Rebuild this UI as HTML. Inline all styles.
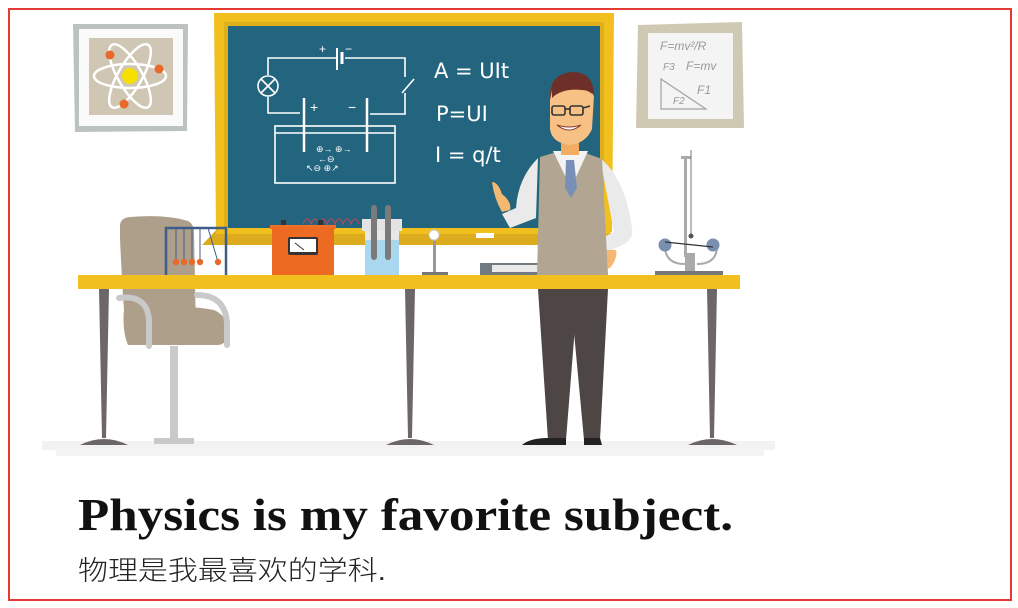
<!DOCTYPE html>
<html><head><meta charset="utf-8"><style>
html,body{margin:0;padding:0;background:#fff;}
svg{display:block;}
</style></head><body>
<svg width="1018" height="608" viewBox="0 0 1018 608" xmlns="http://www.w3.org/2000/svg">
<rect x="0" y="0" width="1018" height="608" fill="#fff"/>
<rect x="9" y="9" width="1002" height="591" fill="none" stroke="#e53935" stroke-width="2"/>

<!-- floor -->
<g>
<rect x="42" y="441" width="733" height="9" fill="#f1f2f1"/>
<rect x="56" y="449" width="708" height="7" fill="#f3f4f3"/>
</g>

<!-- atom picture -->
<g>
<polygon points="73,24 188,24 187,131 75,132" fill="#bcc2bd"/>
<rect x="79" y="29" width="104" height="97" fill="#fafafa"/>
<rect x="89" y="38" width="84" height="77" fill="#cfc7b3"/>
<g fill="none" stroke="#fff" stroke-width="2.5">
<ellipse cx="130" cy="76" rx="36" ry="12"/>
<ellipse cx="130" cy="76" rx="36" ry="12" transform="rotate(60 130 76)"/>
<ellipse cx="130" cy="76" rx="36" ry="12" transform="rotate(-60 130 76)"/>
</g>
<circle cx="130" cy="76" r="8" fill="#f5e000"/>
<circle cx="110" cy="55" r="4.5" fill="#e8692a"/>
<circle cx="159" cy="69" r="4.5" fill="#e8692a"/>
<circle cx="124" cy="104" r="4.5" fill="#e8692a"/>
</g>

<!-- physics formula picture -->
<g>
<polygon points="638,25 742,22 744,128 636,128" fill="#cfc9b4"/>
<rect x="648" y="33" width="85" height="86" fill="#f4f4f4"/>
<g font-family="Liberation Sans, sans-serif" font-style="italic" fill="#999" font-size="12">
<text x="660" y="50">F=mv²/R</text>
<text x="686" y="70">F=mv</text>
<text x="663" y="70" font-size="10">F3</text>
<text x="697" y="94">F1</text>
<text x="673" y="104" font-size="10">F2</text>
</g>
<polygon points="661,79 661,109 706,109" fill="none" stroke="#a0a0a0" stroke-width="1.2"/>
</g>

<!-- chalkboard -->
<g>
<polygon points="214,13 614,13 612,232 216,232" fill="#f2c01e"/>
<rect x="224" y="22" width="380" height="210" fill="#ddb01c"/>
<rect x="228" y="26" width="372" height="202" fill="#23657e"/>
<polygon points="218,228 610,228 612,245 202,245" fill="#dcab1e"/>
<polygon points="218,228 610,228 610,234 216,234" fill="#f2c01e"/>
<rect x="476" y="233" width="18" height="5" fill="#fff"/>
<g fill="none" stroke="#fff" stroke-width="1.6">
<polyline points="337,58 268,58 268,75"/>
<circle cx="268" cy="86" r="10"/>
<path d="M261,79 L275,93 M275,79 L261,93"/>
<polyline points="268,97 268,113 300,113"/>
<polyline points="345,58 405,58 405,77"/>
<line x1="402" y1="93" x2="414" y2="79"/>
<polyline points="405,93 405,114 370,114"/>
<line x1="304" y1="98" x2="304" y2="152" stroke-width="2.5"/>
<line x1="367" y1="98" x2="367" y2="152" stroke-width="2.5"/>
<line x1="337" y1="48" x2="337" y2="70" stroke-width="2"/>
<line x1="342" y1="52" x2="342" y2="64" stroke-width="3"/>
<rect x="275" y="126" width="120" height="57"/>
<line x1="275" y1="133" x2="395" y2="133"/>
</g>
<g font-family="Liberation Sans, sans-serif" fill="#fff">
<text x="319" y="53" font-size="12">+</text>
<text x="345" y="53" font-size="12">−</text>
<text x="310" y="112" font-size="14">+</text>
<text x="348" y="112" font-size="14">−</text>
<text x="316" y="152" font-size="9">⊕→ ⊕→</text>
<text x="318" y="162" font-size="9">←⊖</text>
<text x="306" y="171" font-size="9">↖⊖   ⊕↗</text>
</g>
<g font-family="DejaVu Sans, sans-serif" fill="#fff" font-size="21">
<text x="434" y="78">A = UIt</text>
<text x="436" y="121">P=UI</text>
<text x="435" y="162">I = q/t</text>
</g>
</g>

<!-- coil wires -->
<path d="M303,224 q4,-10 8,0 q4,-10 8,0 q4,-10 8,0 q4,-10 8,0 q4,-10 8,0 q4,-10 8,0 q4,-10 8,0" fill="none" stroke="#b0495a" stroke-width="1.2"/>

<!-- chair -->
<g>
<path d="M120,226 q0,-8 10,-9 q35,-3 58,4 q6,3 6,12 l2,100 l-70,5 q-4,-50 -6,-100 z" fill="#ad9f89"/>
<path d="M124,310 q45,-8 90,0 q14,6 14,22 q0,12 -10,13 l-90,0 q-6,-14 -4,-35 z" fill="#ad9f89"/>
<path d="M119,298 q28,-4 30,22 l0,26" fill="none" stroke="#c9c9c9" stroke-width="6" stroke-linecap="round"/>
<path d="M197,295 q28,0 30,28 l0,22" fill="none" stroke="#c9c9c9" stroke-width="6" stroke-linecap="round"/>
<rect x="170" y="346" width="8" height="93" fill="#c9c9c9"/>
<rect x="154" y="438" width="40" height="6" fill="#c9c9c9"/>
</g>

<!-- newton cradle -->
<g stroke="#3e5d8c" fill="none">
<polyline points="166,276 166,228 226,228 226,276" stroke-width="2.5"/>
<g stroke-width="1"><line x1="176" y1="228" x2="176" y2="262"/><line x1="184" y1="228" x2="184" y2="262"/><line x1="192" y1="228" x2="192" y2="262"/><line x1="200" y1="228" x2="200" y2="262"/><line x1="208" y1="228" x2="218" y2="262"/></g>
<g fill="#e8692a" stroke="none"><circle cx="176" cy="262" r="3.2"/><circle cx="184" cy="262" r="3.2"/><circle cx="192" cy="262" r="3.2"/><circle cx="200" cy="262" r="3.2"/><circle cx="218" cy="262" r="3.2"/></g>
</g>

<!-- voltmeter box -->
<g>
<rect x="281" y="220" width="5" height="6" fill="#333"/><rect x="318" y="220" width="5" height="6" fill="#333"/>
<rect x="270" y="225" width="66" height="4" fill="#f0702a"/>
<rect x="272" y="227" width="62" height="49" fill="#ec6a22"/>
<rect x="288" y="237" width="30" height="18" rx="2" fill="#333"/>
<rect x="290" y="239" width="26" height="13" fill="#fff"/>
<line x1="295" y1="243" x2="304" y2="250" stroke="#333" stroke-width="1"/>
</g>

<!-- beaker -->
<g>
<rect x="362" y="219" width="40" height="12" fill="#e3e3e3"/>
<rect x="365" y="231" width="34" height="45" fill="#e8e8e8"/>
<rect x="365" y="240" width="34" height="36" fill="#a9d7ef"/>
<rect x="371" y="205" width="6" height="55" rx="3" fill="#7a7a7a"/>
<rect x="385" y="205" width="6" height="55" rx="3" fill="#7a7a7a"/>
</g>

<!-- lamp -->
<g>
<rect x="433" y="240" width="3" height="32" fill="#999"/>
<circle cx="434" cy="235" r="5" fill="#fff" stroke="#ccc"/>
<rect x="422" y="272" width="26" height="4" fill="#777"/>
</g>

<!-- book -->
<g>
<rect x="480" y="263" width="72" height="12" fill="#707a80"/>
<rect x="492" y="265" width="60" height="7" fill="#e9e9e9"/>
</g>

<!-- table -->
<g>
<rect x="78" y="275" width="662" height="14" fill="#f2c01e"/>
<polygon points="99,289 109,289 106,438 102,438" fill="#6d6668"/>
<path d="M80,445 q24,-12 48,0 z" fill="#6d6668"/>
<polygon points="405,289 415,289 412,438 408,438" fill="#6d6668"/>
<path d="M386,445 q24,-12 48,0 z" fill="#6d6668"/>
<polygon points="707,289 717,289 714,438 710,438" fill="#6d6668"/>
<path d="M688,445 q24,-12 49,0 z" fill="#6d6668"/>
</g>

<!-- electroscope apparatus -->
<g>
<rect x="684" y="157" width="3" height="100" fill="#aaa"/>
<rect x="681" y="156" width="10" height="3" fill="#aaa"/>
<line x1="691" y1="150" x2="691" y2="235" stroke="#777"/>
<circle cx="691" cy="236" r="2.5" fill="#555"/>
<path d="M665,246 q0,18 20,18 M717,246 q0,18 -20,18" fill="none" stroke="#aaa" stroke-width="2"/>
<circle cx="665" cy="245" r="6.5" fill="#7a8ead"/>
<circle cx="713" cy="245" r="6.5" fill="#7a8ead"/>
<line x1="665" y1="242" x2="713" y2="247" stroke="#333" stroke-width="1.2"/>
<rect x="685" y="253" width="10" height="18" fill="#aaa"/>
<rect x="655" y="271" width="68" height="4" fill="#777"/>
</g>

<!-- teacher -->
<g>
<polygon points="538,289 578,289 566,440 548,440" fill="#4e4644"/>
<polygon points="570,289 608,289 600,440 584,440" fill="#4e4644"/>
<path d="M522,445 q8,-7 26,-7 l18,0 l0,7 z M584,438 l16,0 l2,7 l-18,0 z" fill="#222"/>
<path d="M538,158 q-20,20 -22,50 l-14,6 l8,14 l26,-10 z" fill="#eaeaea"/>
<path d="M600,158 q25,20 32,70 q2,10 -8,16 l-20,10 l-6,-14 l16,-8 z" fill="#eaeaea"/>
<path d="M502,212 q-8,-14 -10,-30 q6,0 10,12 q10,8 8,16 z" fill="#f5b871"/>
<path d="M604,250 q-8,6 -4,20 l10,-2 q8,-10 6,-18 z" fill="#f5b871"/>
<path d="M540,157 l20,-6 l20,0 l22,8 l6,116 l-71,0 z" fill="#b2a692"/>
<polygon points="553,151 588,151 571,188" fill="#f3f3f3"/>
<polygon points="566,160 574,160 577,188 571,198 565,188" fill="#7890b7"/>
<rect x="561" y="135" width="18" height="20" fill="#f2ad62"/>
<path d="M550,95 q0,-20 20,-22 q22,0 24,22 l-2,34 q-6,14 -22,16 q-18,-2 -20,-16 z" fill="#f7c084"/>
<path d="M550,100 q-2,-26 22,-28 q22,0 22,24 l-4,-6 q-10,-8 -30,-6 l-8,6 z" fill="#6d2f28"/>
<path d="M552,98 q10,-10 30,-8 q6,0 10,4 l-2,-8 q-14,-12 -38,-2 z" fill="#6d2f28"/>
<g fill="none" stroke="#333" stroke-width="1.6">
<rect x="552" y="106" width="13" height="9" rx="2"/><rect x="570" y="106" width="13" height="9" rx="2"/>
<line x1="565" y1="109" x2="570" y2="109"/><line x1="583" y1="108" x2="590" y2="106"/>
</g>
<path d="M557,125 q12,10 24,0 q-12,4 -24,0 z" fill="#fff" stroke="#8a3b2a" stroke-width="1"/>
</g>

<!-- text -->
<text x="78" y="530" font-family="Liberation Serif, serif" font-weight="bold" font-size="45" fill="#111" textLength="655" lengthAdjust="spacingAndGlyphs">Physics is my favorite subject.</text>
<text x="78" y="580" font-family="Liberation Sans, 'Noto Sans CJK SC', sans-serif" font-weight="300" font-size="27" fill="#222" textLength="308" lengthAdjust="spacingAndGlyphs">物理是我最喜欢的学科.</text>
</svg>
</body></html>
